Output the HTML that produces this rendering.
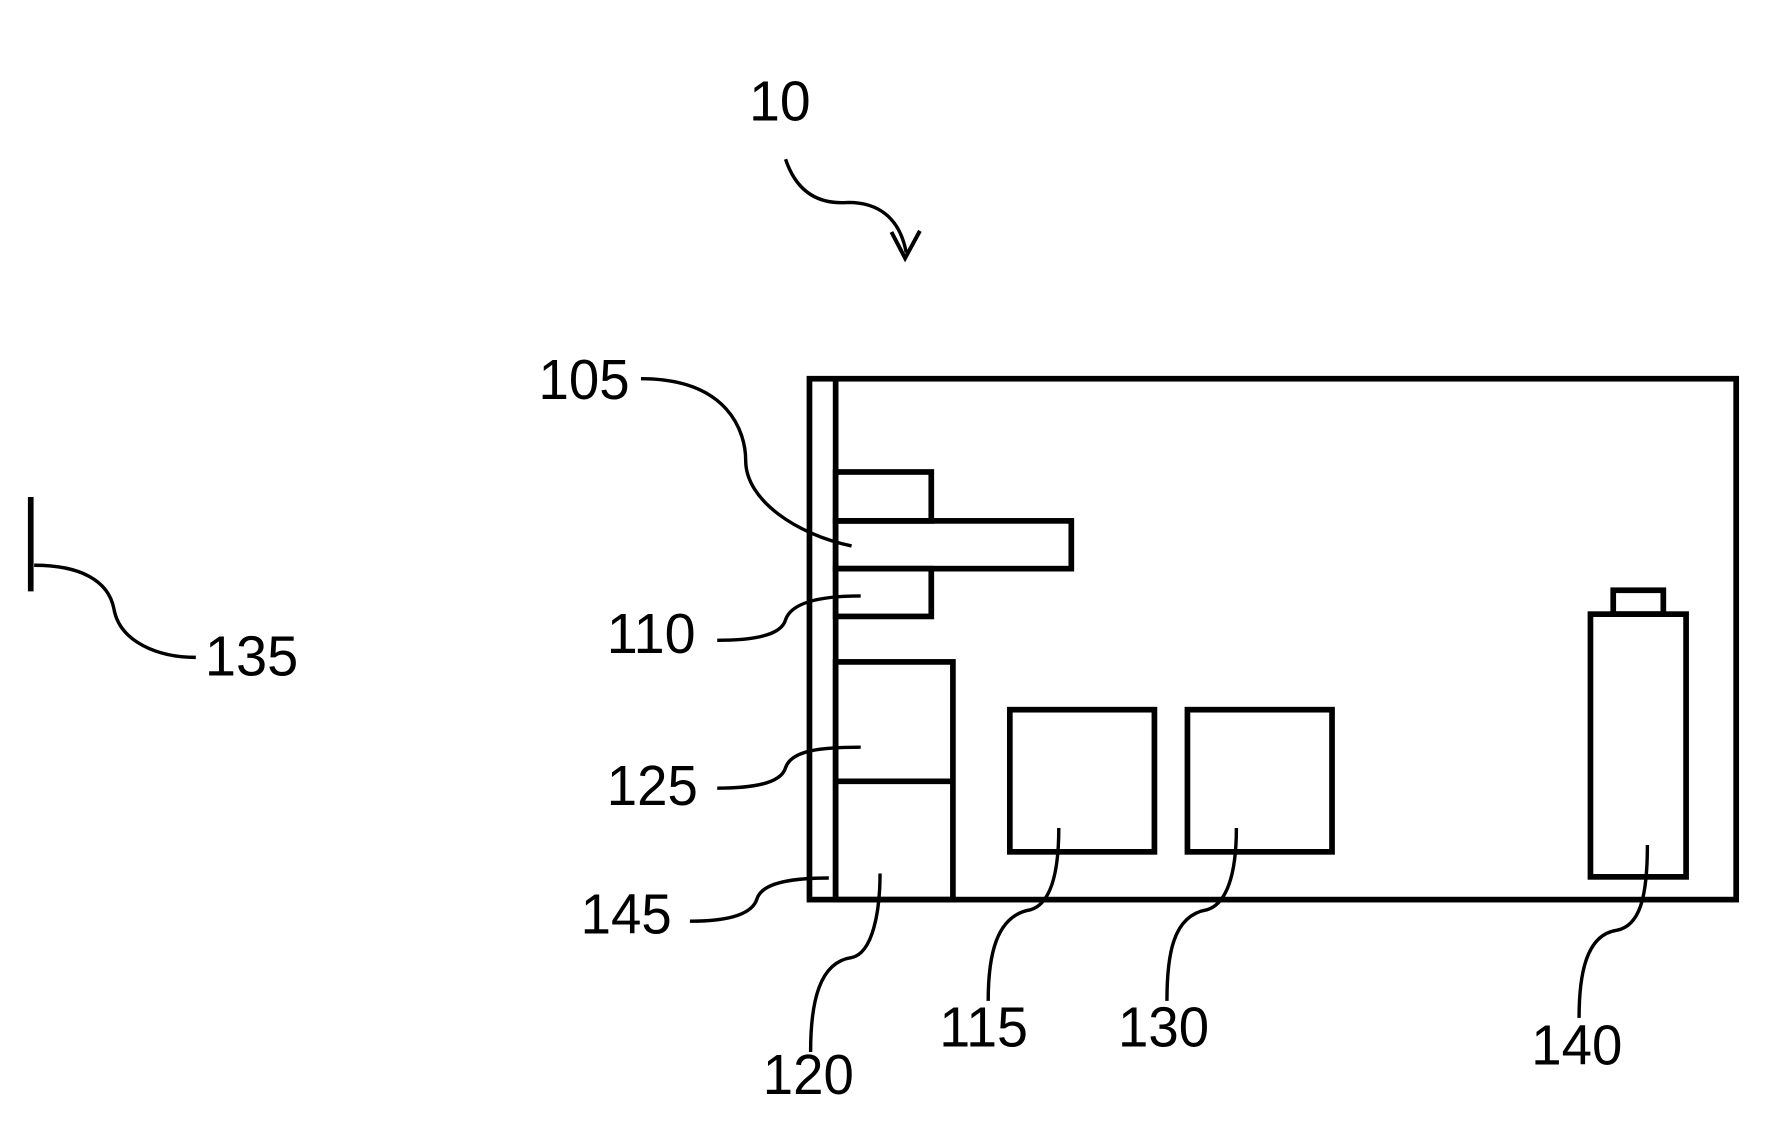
<!DOCTYPE html>
<html><head><style>html,body{margin:0;padding:0;background:#fff}svg{display:block}</style></head>
<body>
<svg width="1784" height="1143" viewBox="0 0 1567 1005" preserveAspectRatio="none" xmlns="http://www.w3.org/2000/svg">
<g fill="none" stroke="#000" stroke-width="5">
<rect x="711" y="333" width="814" height="458"/>
<line x1="734" y1="333" x2="734" y2="791"/>
<rect x="734" y="415" width="84" height="43"/>
<rect x="734" y="458" width="207" height="42"/>
<rect x="734" y="500" width="84" height="42"/>
<rect x="734" y="582" width="103" height="209"/>
<line x1="734" y1="687" x2="837" y2="687"/>
<rect x="887" y="624" width="127" height="125"/>
<rect x="1043" y="624" width="127" height="125"/>
<rect x="1397" y="540" width="84" height="231"/>
<rect x="1417" y="519" width="44" height="21"/>
<line x1="27" y1="437" x2="27" y2="520"/>
</g>
<g fill="none" stroke="#000" stroke-width="3">
<path d="M563,333 C640,333 655,380 655,405 C655,440 700,470 748,480"/>
<path d="M630,563 C680,563 688,552 690,545 C695,530 720,524 756,524"/>
<path d="M630,693 C680,693 688,682 690,675 C695,660 720,657 756,657"/>
<path d="M606,810 C655,810 663,797 665,790 C670,775 700,772 728,772"/>
<path d="M773,768 C773,800 767,838 748,842 C720,846 712,880 712,925"/>
<path d="M930,728 C930,770 922,795 905,800 C875,805 868,840 868,880"/>
<path d="M1086,728 C1086,770 1077,795 1060,800 C1030,805 1025,840 1025,880"/>
<path d="M1447,743 C1447,790 1440,814 1420,818 C1392,822 1387,860 1387,895"/>
<path d="M30,497 C70,497 95,510 100,535 C105,565 140,578 172,578"/>
<path d="M690,140 C700,170 720,180 745,178 C770,178 790,190 796,222"/>
<path d="M783,204 L795,227 L808,203" stroke-width="3.5"/>
</g>
<g font-family="Liberation Sans, sans-serif" font-size="50" fill="#000">
<text x="658" y="106" textLength="54" lengthAdjust="spacingAndGlyphs">10</text>
<text x="473" y="351" textLength="80" lengthAdjust="spacingAndGlyphs">105</text>
<text x="533" y="574" textLength="78" lengthAdjust="spacingAndGlyphs">110</text>
<text x="533" y="708" textLength="80" lengthAdjust="spacingAndGlyphs">125</text>
<text x="510" y="821" textLength="80" lengthAdjust="spacingAndGlyphs">145</text>
<text x="670" y="962" textLength="80" lengthAdjust="spacingAndGlyphs">120</text>
<text x="825" y="920" textLength="78" lengthAdjust="spacingAndGlyphs">115</text>
<text x="982" y="920" textLength="80" lengthAdjust="spacingAndGlyphs">130</text>
<text x="1345" y="936" textLength="80" lengthAdjust="spacingAndGlyphs">140</text>
<text x="180" y="594" textLength="82" lengthAdjust="spacingAndGlyphs">135</text>
</g>
</svg>
</body></html>
